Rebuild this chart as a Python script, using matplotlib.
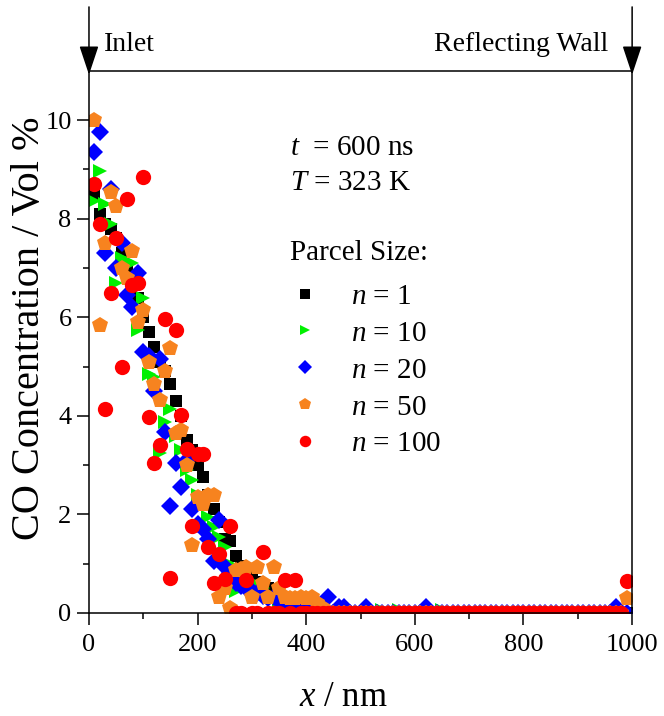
import numpy as np
import matplotlib
matplotlib.use('Agg')
import matplotlib.pyplot as plt

plt.rcParams['font.family'] = ['Liberation Serif', 'DejaVu Serif']
plt.rcParams['mathtext.fontset'] = 'custom'
plt.rcParams['mathtext.it'] = 'Liberation Serif:italic'
plt.rcParams['mathtext.rm'] = 'Liberation Serif'

# cell centres, nm
x_nm = np.arange(10, 1000, 10)

n1 = [8.5, 8.1, 7.9, 7.8, 7.6, 7.3, 7.0, 6.7, 6.4, 6.0,
      5.7, 5.4, 5.1, 4.9, 4.65, 4.3, 4.0, 3.5, 3.3, 3.0,
      2.75, 2.4, 2.1, 1.85, 1.5, 1.45, 1.15, 0.95, 0.85, 0.7,
      0.62, 0.55, 0.5, 0.45, 0.3, 0.22, 0.15, 0.1, 0.06, 0.04,
      0.02, 0, 0, 0, 0, 0, 0, 0, 0, 0,
      0, 0, 0, 0, 0, 0, 0, 0, 0, 0,
      0, 0, 0, 0, 0, 0, 0, 0, 0, 0,
      0, 0, 0, 0, 0, 0, 0, 0, 0, 0,
      0, 0, 0, 0, 0, 0, 0, 0, 0, 0,
      0, 0, 0, 0, 0, 0, 0, 0, 0]

n10 = [8.35, 8.97, 8.3, 7.9, 6.7, 7.2, 7.15, 7.1, 5.75, 6.4,
       4.84, 4.78, 3.25, 3.88, 4.13, 3.58, 3.3, 2.9, 2.7, 2.4,
       2.2, 1.95, 1.75, 1.55, 1.34, 1.0, 0.45, 0.8, 0.7, 0.6,
       0.58, 0.5, 0.4, 0.3, 0.25, 0.15, 0.1, 0.08, 0.05, 0.04,
       0.02, 0, 0, 0, 0, 0, 0, 0, 0, 0,
       0, 0, 0, 0.06, 0, 0, 0.06, 0, 0, 0,
       0, 0, 0, 0, 0.06, 0, 0, 0, 0, 0,
       0, 0, 0, 0, 0, 0, 0, 0, 0, 0,
       0, 0, 0, 0, 0, 0, 0, 0, 0, 0,
       0, 0, 0, 0, 0, 0, 0, 0, 0]

n20 = [9.35, 9.75, 7.3, 8.6, 7.0, 7.5, 6.45, 6.2, 6.9, 5.3,
       5.22, 4.5, 5.15, 3.68, 2.16, 3.05, 2.55, 3.1, 2.1, 1.8,
       1.7, 1.5, 1.05, 1.88, 0.94, 0.8, 0.6, 0.55, 0.5, 0.45,
       0.4, 0.35, 0.3, 0.33, 0.25, 0.2, 0.15, 0.1, 0.08, 0.05,
       0.03, 0.05, 0.12, 0.33, 0, 0.12, 0.12, 0, 0, 0,
       0.12, 0, 0, 0, 0, 0, 0, 0, 0, 0,
       0, 0.12, 0, 0, 0, 0, 0, 0, 0, 0,
       0, 0, 0, 0, 0, 0, 0, 0, 0, 0,
       0, 0, 0, 0, 0, 0, 0, 0, 0, 0,
       0, 0, 0, 0, 0, 0, 0.12, 0, 0]

n50 = [10.0, 5.85, 7.5, 8.55, 8.25, 7.0, 6.8, 7.35, 5.9, 6.15,
       5.1, 4.65, 4.33, 4.9, 5.38, 3.66, 3.72, 3.0, 1.37, 2.35,
       2.2, 2.4, 2.4, 0.33, 0.5, 0.1, 0.87, 0.9, 0.93, 0.33,
       0.93, 0.6, 0.33, 0.93, 0.5, 0.33, 0.3, 0.3, 0.33, 0.3,
       0.33, 0.2, 0.1, 0, 0, 0, 0, 0, 0, 0,
       0, 0, 0, 0, 0, 0, 0, 0, 0, 0,
       0, 0, 0, 0, 0, 0, 0, 0, 0, 0,
       0, 0, 0, 0, 0, 0, 0, 0, 0, 0,
       0, 0, 0, 0, 0, 0, 0, 0, 0, 0,
       0, 0, 0, 0, 0, 0, 0, 0, 0.3]

n100 = [8.7, 7.9, 4.13, 6.5, 7.6, 5.0, 8.4, 6.65, 6.69, 8.84,
        3.98, 3.05, 3.41, 5.97, 0.71, 5.75, 4.02, 3.33, 1.76, 3.23,
        3.23, 1.34, 0.61, 1.2, 0.69, 1.77, 0, 0, 0.67, 0,
        0, 1.24, 0, 0, 0, 0.67, 0, 0.67, 0, 0,
        0, 0, 0, 0, 0, 0, 0, 0, 0, 0,
        0, 0, 0, 0, 0, 0, 0, 0, 0, 0,
        0, 0, 0, 0, 0, 0, 0, 0, 0, 0,
        0, 0, 0, 0, 0, 0, 0, 0, 0, 0,
        0, 0, 0, 0, 0, 0, 0, 0, 0, 0,
        0, 0, 0, 0, 0, 0, 0, 0, 0.65]

labels = ['$n$ = 1', '$n$ = 10', '$n$ = 20', '$n$ = 50', '$n$ = 100']
series = [n1, n10, n20, n50, n100]
markers = ['s', '>', 'D', 'p', 'o']
sizes = [9, 10.5, 9, 12, 11]
colors = ['#000000', '#00f000', '#0000ff', '#f7831f', '#ff0000']

fig = plt.figure(figsize=(6.64, 7.16), dpi=100)
ax = fig.add_axes([0.134, 0.144, 0.818, 0.757])

handles = []
for ys, m, s, c, lab in zip(series, markers, sizes, colors, labels):
    h, = ax.plot(x_nm, ys, ls='none', marker=m, ms=s, color=c, mew=0, label=lab)
    handles.append(h)

ax.set_xlim(0, 1000)
ax.set_ylim(0, 11)
ax.set_xticks([0, 200, 400, 600, 800, 1000])
ax.set_xticks([100, 300, 500, 700, 900], minor=True)
ax.set_yticks([0, 2, 4, 6, 8, 10])
ax.set_yticks([1, 3, 5, 7, 9], minor=True)
ax.tick_params(which='both', direction='out', width=1.1, labelsize=19, top=False, right=False)
ax.tick_params(which='major', length=8.5, pad=4)
ax.tick_params(axis='x', which='major', pad=7)
ax.tick_params(which='minor', length=4.5)
for sp in ax.spines.values():
    sp.set_linewidth(1.1)

ax.set_xlabel('$x$ / nm', fontsize=25)
ax.xaxis.set_label_coords(0.468, -0.126)
ax.set_ylabel('CO Concentration / Vol %', fontsize=29)
ax.yaxis.set_label_coords(-0.076, 0.526)

ax.text(0.37, 0.858, '$t$  = 600 ns', transform=ax.transAxes, fontsize=21, va='center')
ax.text(0.37, 0.793, '$T$ = 323 K', transform=ax.transAxes, fontsize=21, va='center')
ax.text(0.37, 0.664, 'Parcel Size:', transform=ax.transAxes, fontsize=21, va='center')

leg = ax.legend(handles=handles, loc='upper left',
                bbox_to_anchor=(0.37, 0.608), frameon=False, fontsize=21,
                borderpad=0, borderaxespad=0,
                handlelength=1.0, handletextpad=1.1, labelspacing=0.36,
                markerscale=0.75)

# inlet / wall arrows above the frame
for xa in [0, 1]:
    ax.annotate('', xy=(xa, 0.993), xytext=(xa, 1.118), xycoords='axes fraction',
                textcoords='axes fraction', annotation_clip=False,
                arrowprops=dict(arrowstyle='-|>,head_length=0.9,head_width=0.3',
                                color='black', lw=1.1, shrinkA=0, shrinkB=0,
                                mutation_scale=20))
ax.text(0.028, 1.048, 'Inlet', transform=ax.transAxes, fontsize=20, va='center', ha='left')
ax.text(0.956, 1.048, 'Reflecting Wall', transform=ax.transAxes, fontsize=20,
        va='center', ha='right')

fig.savefig('out.png', dpi=100)
